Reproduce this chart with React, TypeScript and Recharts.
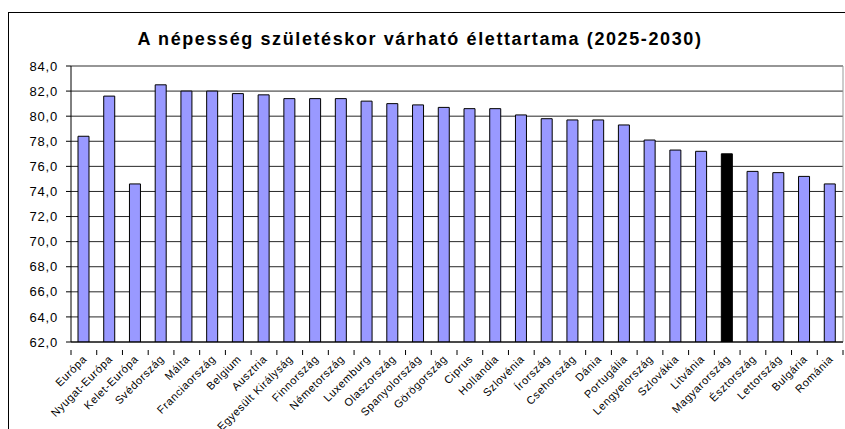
import { BarChart, Bar, XAxis, YAxis, CartesianGrid, Cell } from "recharts";

const countries = [
  "Európa",
  "Nyugat-Európa",
  "Kelet-Európa",
  "Svédország",
  "Málta",
  "Franciaország",
  "Belgium",
  "Ausztria",
  "Egyesült Királyság",
  "Finnország",
  "Németország",
  "Luxemburg",
  "Olaszország",
  "Spanyolország",
  "Görögország",
  "Ciprus",
  "Hollandia",
  "Szlovénia",
  "Írország",
  "Csehország",
  "Dánia",
  "Portugália",
  "Lengyelország",
  "Szlovákia",
  "Litvánia",
  "Magyarország",
  "Észtország",
  "Lettország",
  "Bulgária",
  "Románia",
];

const lifeExpectancy = [
  78.4, 81.6, 74.6, 82.5, 82.0, 82.0, 81.8, 81.7, 81.4, 81.4, 81.4, 81.2, 81.0, 80.9, 80.7,
  80.6, 80.6, 80.1, 79.8, 79.7, 79.7, 79.3, 78.1, 77.3, 77.2, 77.0, 75.6, 75.5, 75.2, 74.6,
];

const yTicks = [62, 64, 66, 68, 70, 72, 74, 76, 78, 80, 82, 84];
const highlighted = "Magyarország";

const chartData = countries.map((name, i) => ({ name, value: lifeExpectancy[i] }));

const FONT = "'Liberation Sans', Arial, sans-serif";

function CountryTick(props: any) {
  const { x, y, payload, index, width, visibleTicksCount } = props;
  const band = width && visibleTicksCount ? width / visibleTicksCount : 25.75;
  const isLast = index === countries.length - 1;
  return (
    <g transform={`translate(${x},${y})`}>
      <line x1={-band / 2} y1={0} x2={-band / 2} y2={5} stroke="#000" />
      {isLast && <line x1={band / 2} y1={0} x2={band / 2} y2={5} stroke="#000" />}
      <text
        x={1}
        y={7}
        dy="0.35em"
        textAnchor="end"
        transform="rotate(-45, 1, 7)"
        fontSize={11}
        fontFamily={FONT}
        letterSpacing={0.6}
        fill="#000"
      >
        {payload.value}
      </text>
    </g>
  );
}

export default function App() {
  return (
    <div style={{ position: "absolute", left: 0, top: 0, width: 845, height: 429, background: "#fff", overflow: "hidden" }}>
      <div
        style={{
          position: "absolute",
          left: 8,
          top: 12,
          width: 850,
          height: 430,
          border: "1px solid #000",
          boxSizing: "border-box",
        }}
      />
      <div
        style={{
          position: "absolute",
          left: 0,
          top: 29,
          width: 840,
          textAlign: "center",
          fontFamily: FONT,
          fontWeight: "bold",
          fontSize: 18,
          letterSpacing: 1.6,
          color: "#000",
        }}
      >
        A népesség születéskor várható élettartama (2025-2030)
      </div>
      <div style={{ position: "absolute", left: 0, top: 0 }}>
        <BarChart
          width={845}
          height={429}
          data={chartData}
          margin={{ top: 66, right: 2, left: 0, bottom: 0 }}
          barCategoryGap={0}
        >
          <CartesianGrid horizontal vertical={false} stroke="#000" strokeOpacity={0.85} />
          <CartesianGrid
            stroke="#999"
            horizontalCoordinatesGenerator={({ offset }: any) => [offset.top]}
            verticalCoordinatesGenerator={({ offset }: any) => [offset.left + offset.width]}
          />
          <XAxis
            dataKey="name"
            interval={0}
            height={87}
            axisLine={{ stroke: "#000" }}
            tickLine={false}
            tick={<CountryTick />}
          />
          <YAxis
            width={71}
            domain={[62, 84]}
            ticks={yTicks}
            allowDataOverflow
            interval={0}
            tickSize={5}
            tickMargin={8}
            axisLine={{ stroke: "#000" }}
            tickLine={{ stroke: "#000" }}
            tick={{ fill: "#000", fontSize: 13, fontFamily: FONT, letterSpacing: 0.8 }}
            tickFormatter={(v: number) => v.toFixed(1).replace(".", ",")}
          />
          <Bar dataKey="value" barSize={11} fill="#9999FF" stroke="#000" strokeWidth={1} isAnimationActive={false}>
            {chartData.map((d) => (
              <Cell key={d.name} fill={d.name === highlighted ? "#000" : "#9999FF"} />
            ))}
          </Bar>
        </BarChart>
      </div>
    </div>
  );
}
